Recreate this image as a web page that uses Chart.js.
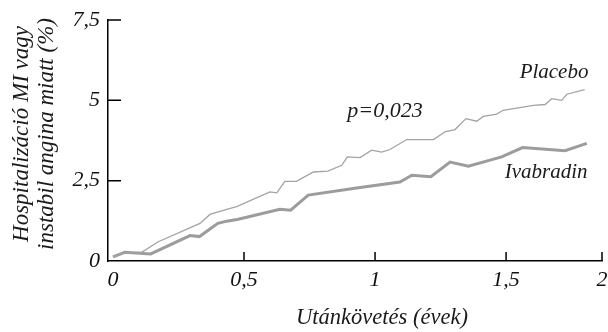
<!DOCTYPE html>
<html>
<head>
<meta charset="utf-8">
<script src="https://cdn.jsdelivr.net/npm/chart.js@4/dist/chart.umd.min.js"></script>
<style>
  html, body { margin: 0; padding: 0; background: #fff; }
  #wrap { width: 608px; height: 332px; }
</style>
</head>
<body>
<div id="wrap"><canvas id="myChart"></canvas></div>
<script>
// follow-up time (years) and cumulative event rate (%)
const placeboYears = [0, 0.045, 0.109, 0.173, 0.332, 0.370, 0.434, 0.472, 0.599, 0.625, 0.656, 0.700, 0.765, 0.820, 0.873, 0.894, 0.943, 0.987, 1.025, 1.057, 1.121, 1.223, 1.267, 1.305, 1.347, 1.388, 1.413, 1.464, 1.489, 1.540, 1.604, 1.649, 1.674, 1.712, 1.732, 1.800];
const placeboRate  = [0.13, 0.27, 0.27, 0.60, 1.17, 1.45, 1.61, 1.69, 2.15, 2.12, 2.48, 2.48, 2.77, 2.80, 2.98, 3.24, 3.22, 3.45, 3.39, 3.47, 3.78, 3.78, 4.02, 4.09, 4.43, 4.35, 4.50, 4.57, 4.69, 4.76, 4.84, 4.87, 5.05, 5.00, 5.19, 5.33];

const ivabradinYears = [0, 0.045, 0.144, 0.294, 0.330, 0.400, 0.434, 0.478, 0.637, 0.678, 0.745, 0.943, 1.095, 1.140, 1.213, 1.286, 1.356, 1.483, 1.563, 1.725, 1.808];
const ivabradinRate  = [0.13, 0.27, 0.22, 0.79, 0.76, 1.17, 1.24, 1.30, 1.61, 1.58, 2.05, 2.29, 2.46, 2.67, 2.62, 3.08, 2.95, 3.24, 3.53, 3.43, 3.66];

const xTickValues = [0, 0.5, 1, 1.5, 1.866];
const xTickLabels = ["0", "0,5", "1", "1,5", "2"];
const yTickValues = [0, 2.5, 5, 7.5];
const yTickLabels = ["0", "2,5", "5", "7,5"];

const xTitle = "Utánkövetés (évek)";
const yTitle = ["Hospitalizáció MI vagy", "instabil angina miatt (%)"];

const notes = [
  { text: "Placebo",  x: 1.683, y: 5.87 },
  { text: "p=0,023",  x: 1.038, y: 4.66 },
  { text: "Ivabradin", x: 1.653, y: 2.76 },
];

const toPoints = (xs, ys) => xs.map((x, i) => ({ x: x, y: ys[i] }));
const serif = "'Liberation Serif', 'DejaVu Serif', serif";

const innerTicks = {
  id: "innerTicks",
  afterDraw(chart) {
    const ctx = chart.ctx;
    const xs = chart.scales.x, ys = chart.scales.y;
    const bottom = chart.chartArea.bottom, left = chart.chartArea.left;
    ctx.save();
    ctx.strokeStyle = "#000";
    ctx.lineWidth = 1.5;
    ctx.beginPath();
    xTickValues.forEach(v => {
      if (v === 0) return;
      const px = xs.getPixelForValue(v);
      ctx.moveTo(px, bottom);
      ctx.lineTo(px, bottom - 9);
    });
    yTickValues.forEach(v => {
      if (v === 0) return;
      const py = ys.getPixelForValue(v);
      ctx.moveTo(left, py);
      ctx.lineTo(left + 13, py);
    });
    ctx.stroke();

    ctx.fillStyle = "#1a1a1a";
    ctx.textAlign = "center";
    ctx.textBaseline = "middle";
    notes.forEach(n => {
      ctx.font = "italic " + (n.text[0] === "p" ? 22 : 21) + "px " + serif;
      ctx.fillText(n.text, xs.getPixelForValue(n.x), ys.getPixelForValue(n.y));
    });

    // axis titles
    ctx.font = "italic 22.5px " + serif;
    ctx.fillText(xTitle, 382, 318);
    ctx.font = "italic 23px " + serif;
    yTitle.forEach((line, i) => {
      ctx.save();
      ctx.translate(22 + i * 25, 134);
      ctx.rotate(-Math.PI / 2);
      ctx.fillText(line, 0, 0);
      ctx.restore();
    });
    ctx.restore();
  }
};

new Chart(document.getElementById("myChart").getContext("2d"), {
  type: "line",
  data: {
    datasets: [
      {
        label: "Placebo",
        data: toPoints(placeboYears, placeboRate),
        borderColor: "#a3a3a3",
        borderWidth: 1.3,
        pointRadius: 0,
        tension: 0,
      },
      {
        label: "Ivabradin",
        data: toPoints(ivabradinYears, ivabradinRate),
        borderColor: "#9c9c9c",
        borderWidth: 3,
        pointRadius: 0,
        tension: 0,
      },
    ],
  },
  options: {
    responsive: true,
    maintainAspectRatio: false,
    animation: false,
    layout: { padding: { top: 20, right: 6, left: 0, bottom: 0 } },
    plugins: { legend: { display: false }, tooltip: { enabled: false } },
    scales: {
      x: {
        type: "linear",
        min: -0.019,
        max: 1.866,
        afterBuildTicks: (s) => { s.ticks = xTickValues.map(v => ({ value: v })); },
        afterFit: (s) => { s.height = 71; s.paddingLeft = 0; s.paddingRight = 0; },
        ticks: {
          callback: (v) => xTickLabels[xTickValues.indexOf(v)],
          color: "#111",
          font: { family: serif, style: "italic", size: 22 },
          padding: 6,
          maxRotation: 0,
          autoSkip: false,
        },
        grid: { display: false, drawTicks: false },
        border: { color: "#000", width: 1.5 },
      },
      y: {
        min: 0,
        max: 7.5,
        afterBuildTicks: (s) => { s.ticks = yTickValues.map(v => ({ value: v })); },
        afterFit: (s) => { s.width = 108; s.paddingTop = 0; s.paddingBottom = 0; },
        ticks: {
          callback: (v) => yTickLabels[yTickValues.indexOf(v)],
          color: "#111",
          font: { family: serif, style: "italic", size: 22 },
          padding: 8,
        },
        grid: { display: false, drawTicks: false },
        border: { color: "#000", width: 1.5 },
      },
    },
  },
  plugins: [innerTicks],
});
</script>
</body>
</html>
